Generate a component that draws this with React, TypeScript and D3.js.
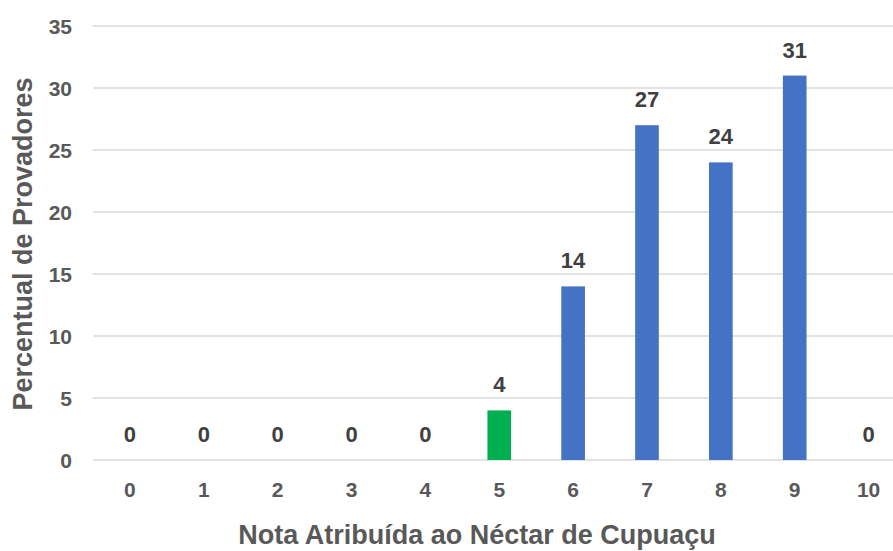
import React from "react";
import * as d3 from "d3";

const notas = ["0", "1", "2", "3", "4", "5", "6", "7", "8", "9", "10"];
const percentuais = [0, 0, 0, 0, 0, 4, 14, 27, 24, 31, 0];
const destaque = "5";
const yTicks = [0, 5, 10, 15, 20, 25, 30, 35];

const width = 893, height = 551;
const font = "'Liberation Sans', Arial, sans-serif";
const grey = "#595959";

const App = () => {
  const x = d3.scaleBand()
    .domain(notas)
    .range([93, 905.5])
    .paddingInner(0.68)
    .paddingOuter(0.34);

  const y = d3.scaleLinear()
    .domain([0, 35])
    .range([460, 26]);

  return (
    <svg width={width} height={height} style={{ position: "absolute", left: 0, top: 0 }} fontFamily={font}>
      <rect width={width} height={height} fill="#fff" />
      {yTicks.map(t => (
        <g key={t} transform={`translate(0,${y(t)})`}>
          <line x1={93} x2={width} stroke="#d9d9d9" strokeWidth={1.5} />
          <text x={72} dy="0.36em" textAnchor="end" fontSize={21} fontWeight="bold" fill={grey}>{t}</text>
        </g>
      ))}
      {notas.map((n, i) => {
        const v = percentuais[i];
        const bx = x(n)!;
        return (
          <g key={n}>
            {v > 0 && (
              <rect x={bx} y={y(v)} width={x.bandwidth()} height={y(0) - y(v)}
                fill={n === destaque ? "#00B050" : "#4472C4"} />
            )}
            <text x={bx + x.bandwidth() / 2} y={y(v) - 18} textAnchor="middle"
              fontSize={22} fontWeight="bold" fill="#404040">{v}</text>
            <text x={bx + x.bandwidth() / 2} y={497} textAnchor="middle"
              fontSize={21} fontWeight="bold" fill={grey}>{n}</text>
          </g>
        );
      })}
      <text x={477} y={544} textAnchor="middle" fontSize={27} fontWeight="bold" fill={grey}>
        Nota Atribuída ao Néctar de Cupuaçu
      </text>
      <text transform={`translate(32,244) rotate(-90)`} textAnchor="middle"
        fontSize={27} fontWeight="bold" fill={grey}>
        Percentual de Provadores
      </text>
    </svg>
  );
};

export default App;
